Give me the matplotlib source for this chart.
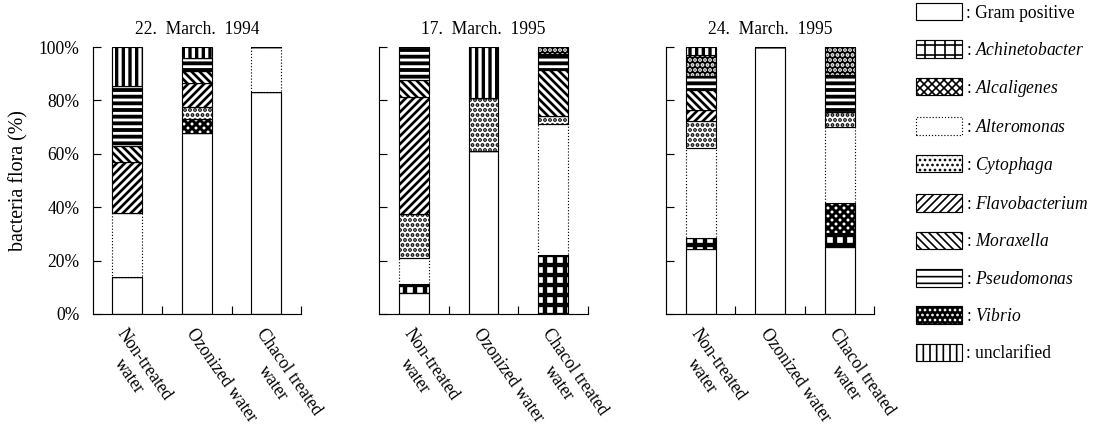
import numpy as np
import matplotlib.pyplot as plt
from matplotlib.patches import Patch

plt.rcParams['font.family'] = ['Liberation Serif', 'DejaVu Serif']
plt.rcParams['mathtext.fontset'] = 'custom'
plt.rcParams['mathtext.rm'] = 'Liberation Serif'
plt.rcParams['mathtext.it'] = 'Liberation Serif:italic'

dates = ['22.  March.  1994', '17.  March.  1995', '24.  March.  1995']
treatments = ['Non-treated\nwater', 'Ozonized water', 'Chacol treated\nwater']
yticks = [0, 20, 40, 60, 80, 100]
ytick_labels = ['0%', '20%', '40%', '60%', '80%', '100%']

species = ['Gram positive', 'Achinetobacter', 'Alcaligenes', 'Alteromonas',
           'Cytophaga', 'Flavobacterium', 'Moraxella', 'Pseudomonas',
           'Vibrio', 'unclarified']
italic = [False, True, True, True, True, True, True, True, True, False]

# % of bacteria flora, one row per date: [non-treated, ozonized, chacol]
gram_positive  = [[14, 67.7, 83], [8, 61, 0], [24.3, 100, 25]]
achinetobacter = [[0, 0, 0], [3.2, 0, 22], [4.1, 0, 5.5]]
alcaligenes    = [[0, 5.3, 0], [0, 0, 0], [0, 0, 11]]
alteromonas    = [[24, 0, 17], [9.7, 0, 49], [33.7, 0, 28.5]]
cytophaga      = [[0, 4.7, 0], [16.6, 20, 3], [10, 0, 5.5]]
flavobacterium = [[19, 9, 0], [43.7, 0, 0], [4.4, 0, 0]]
moraxella      = [[6, 4.2, 0], [6.5, 0, 17.3], [7.5, 0, 0]]
pseudomonas    = [[22.5, 5, 0], [12.3, 0, 5.9], [5, 0, 14.1]]
vibrio         = [[0, 0, 0], [0, 0, 2.8], [8.1, 0, 10.4]]
unclarified    = [[14.5, 4.1, 0], [0, 19, 0], [2.9, 0, 0]]

series = [gram_positive, achinetobacter, alcaligenes, alteromonas, cytophaga,
          flavobacterium, moraxella, pseudomonas, vibrio, unclarified]

# face, hatch, hatch colour, hatch width, outline style
styles = [
    ('white', '', 'black', 1.0, '-'),
    ('white', '++', 'black', 2.6, '-'),
    ('white', 'xxxxx', 'black', 1.8, '-'),
    ('white', '', 'black', 1.0, ':'),
    ('white', '....', 'black', 1.6, '-'),
    ('white', '/////', 'black', 1.6, '-'),
    ('white', '\\\\\\\\\\', 'black', 1.6, '-'),
    ('white', '---', 'black', 2.3, '-'),
    ('black', '....', 'white', 1.6, '-'),
    ('white', '|||', 'black', 2.0, '-'),
]


def fill_patch(face, hatch, hc, hlw):
    with plt.rc_context({'hatch.linewidth': hlw}):
        p = Patch(facecolor=face, edgecolor=hc, hatch=hatch, linewidth=0)
    if hasattr(p, 'set_hatch_linewidth'):
        p.set_hatch_linewidth(hlw)
    return p


fig = plt.figure(figsize=(9.2, 427 / 120), dpi=120)
lefts = [92.7, 379.3, 666.0]
x = np.arange(len(treatments))
width = 0.43

for k, date in enumerate(dates):
    ax = fig.add_axes([lefts[k] / 1104, 1 - 314 / 427, 208.3 / 1104, 267 / 427])
    bottom = np.zeros(len(treatments))
    for vals, (face, hatch, hc, hlw, ls) in zip(series, styles):
        v = np.array(vals[k], dtype=float)
        with plt.rc_context({'hatch.linewidth': hlw}):
            bars = ax.bar(x, v, width, bottom=bottom, color=face, edgecolor=hc,
                          hatch=hatch, linewidth=0)
            for b in bars:
                if hasattr(b, 'set_hatch_linewidth'):
                    b.set_hatch_linewidth(hlw)
        ax.bar(x, v, width, bottom=bottom, fill=False, edgecolor='black',
               linewidth=0.7, linestyle=ls)
        bottom += v

    ax.set_xlim(-0.5, 2.5)
    ax.set_ylim(0, 100)
    for s in ['top', 'right']:
        ax.spines[s].set_visible(False)
    for s in ['left', 'bottom']:
        ax.spines[s].set_linewidth(0.7)
    ax.set_yticks(yticks)
    ax.tick_params(axis='y', direction='in', length=5, width=0.7, labelsize=10.5, pad=8)
    if k == 0:
        ax.set_yticklabels(ytick_labels)
        ax.set_ylabel('bacteria flora (%)', fontsize=12, labelpad=6)
    else:
        ax.set_yticklabels([])
    ax.set_xticks(x)
    ax.set_xticklabels(treatments, rotation=-55, ha='left', va='top',
                       rotation_mode='anchor', fontsize=10.5)
    for lbl in ax.get_xticklabels():
        lbl.set_multialignment('center')
    ax.set_xticks([0.5, 1.5, 2.5], minor=True)
    ax.tick_params(axis='x', which='major', length=0, pad=7)
    ax.tick_params(axis='x', which='minor', direction='in', length=5, width=0.7)
    ax.set_title(date, fontsize=10.5, pad=8)

handles = []
labels = []
for name, it, (face, hatch, hc, hlw, ls) in zip(species, italic, styles):
    fill = fill_patch(face, hatch, hc, hlw)
    edge = Patch(fill=False, edgecolor='black', linewidth=0.7, linestyle=ls)
    handles.append((fill, edge))
    labels.append(': $\\mathit{%s}$' % name if it else ': ' + name)

fig.legend(handles, labels, loc='upper left', bbox_to_anchor=(916 / 1104, 1 - 3 / 427),
           frameon=False, fontsize=10.5, handlelength=2.6, handleheight=1.15,
           labelspacing=1.07, handletextpad=0.25, borderpad=0, borderaxespad=0)

fig.savefig('out.png', dpi=120)
